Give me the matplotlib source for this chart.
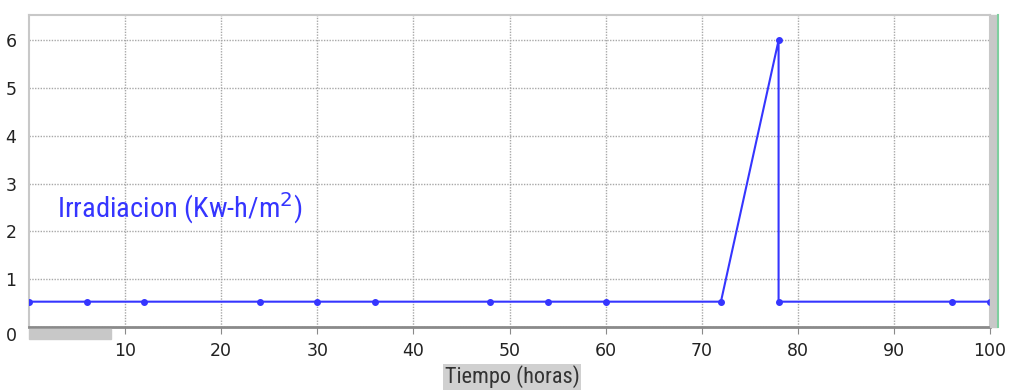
import matplotlib
matplotlib.use("Agg")
import matplotlib.pyplot as plt
from matplotlib import font_manager
from matplotlib.patches import Rectangle

# data
t_line = [0, 6, 12, 24, 30, 36, 48, 54, 60, 72, 78, 78, 96, 100]
irr = [0.53, 0.53, 0.53, 0.53, 0.53, 0.53, 0.53, 0.53, 0.53, 0.53, 6.0, 0.53, 0.53, 0.53]
x_ticks = [10, 20, 30, 40, 50, 60, 70, 80, 90, 100]
y_ticks = [0, 1, 2, 3, 4, 5, 6]

# pick a narrow font if one is there
names = {f.name for f in font_manager.fontManager.ttflist}
narrow = "DejaVu Sans"
for cand in ["Liberation Sans Narrow", "DejaVu Sans Condensed", "Roboto Condensed",
             "Open Sans Condensed", "Noto Sans Condensed"]:
    if cand in names:
        narrow = cand
        break

W, H = 1019, 392
fig = plt.figure(figsize=(W / 100, H / 100), dpi=100)
ax = fig.add_axes([29 / W, 1 - 327 / H, (990 - 29) / W, (327 - 15) / H])

blue = "#3535ff"
ax.plot(t_line, irr, color=blue, lw=1.5, marker="o", ms=4, zorder=3)

ax.set_xlim(0, 100)
ax.set_ylim(0, 6.53)
ax.set_xticks(x_ticks)
ax.set_yticks(y_ticks)
ax.grid(True, color="#a8a8a8", linestyle=(0, (1, 1)), lw=1.0)
for s in ["top", "left", "right"]:
    ax.spines[s].set_color("#c8c8c8")
    ax.spines[s].set_linewidth(1.5)
ax.spines["bottom"].set_color("#8a8a8a")
ax.spines["bottom"].set_linewidth(2)
ax.tick_params(axis="x", length=5, color="#8a8a8a", labelsize=12.5, pad=6,
               labelcolor="#222222")
ax.tick_params(axis="y", length=0, labelsize=12.5, pad=9, labelcolor="#222222")
ax.get_yticklabels()[0].set_verticalalignment("top")

# scrollbar-like gray bits
fig.patches.append(Rectangle((29 / W, 1 - 339 / H), 82 / W, 10 / H,
                             transform=fig.transFigure, color="#c8c8c8"))
fig.patches.append(Rectangle((990 / W, 1 - 327 / H), 7 / W, 312 / H,
                             transform=fig.transFigure, color="#c8c8c8"))
fig.lines.append(plt.Line2D([998 / W, 998 / W], [1 - 327 / H, 1 - 15 / H],
                            transform=fig.transFigure, color="#7fcf9f", lw=1.5))

ax.text(2.9, 2.3, r"Irradiacion (Kw-h/m$^2$)", color=blue, fontsize=20.5,
        family=narrow, ha="left", va="baseline")

fig.text(512 / W, 1 - 377 / H, "Tiempo (horas)", fontsize=16, ha="center",
         va="center", color="#333333", family=narrow,
         bbox=dict(facecolor="#d0d0d0", edgecolor="none", pad=1))

fig.savefig("out.png", dpi=100)
